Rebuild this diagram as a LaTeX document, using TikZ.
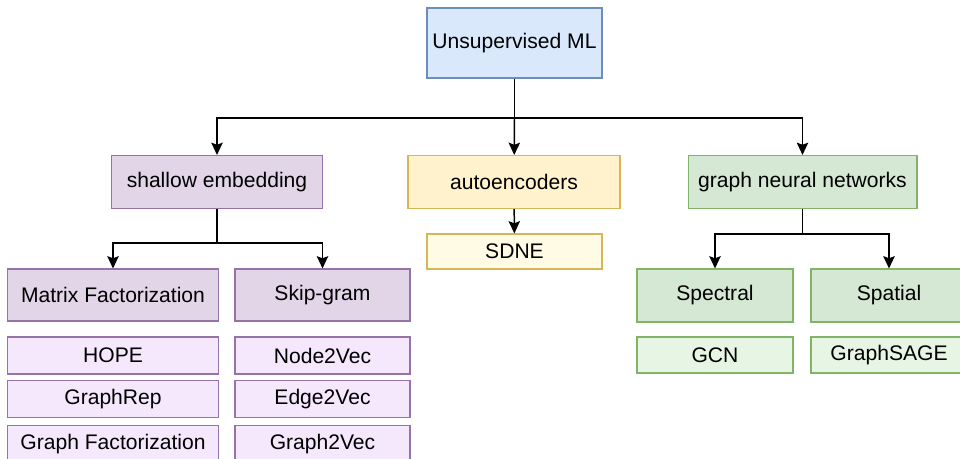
\documentclass[tikz,border=0pt]{standalone}
\usepackage{fontspec}
\setmainfont{Liberation Sans}
\usetikzlibrary{arrows.meta}

\definecolor{blueFill}{HTML}{DAE8FC}
\definecolor{blueLine}{HTML}{6C8EBF}
\definecolor{purpleFill}{HTML}{E1D5E7}
\definecolor{purpleLight}{HTML}{F6E8FC}
\definecolor{purpleLine}{HTML}{9673A6}
\definecolor{yellowFill}{HTML}{FFF2CC}
\definecolor{yellowLight}{HTML}{FFFBE4}
\definecolor{yellowLine}{HTML}{D6B656}
\definecolor{greenFill}{HTML}{D5E8D4}
\definecolor{greenLight}{HTML}{E7F5E5}
\definecolor{greenLine}{HTML}{82B366}

\tikzset{
  box/.style={draw, line width=0.6pt, inner sep=0pt,
    font=\fontsize{12}{14}\selectfont},
  rootbox/.style={box, fill=blueFill, draw=blueLine},
  purplebox/.style={box, fill=purpleFill, draw=purpleLine},
  purpleleaf/.style={box, fill=purpleLight, draw=purpleLine},
  yellowbox/.style={box, fill=yellowFill, draw=yellowLine},
  yellowleaf/.style={box, fill=yellowLight, draw=yellowLine},
  greenbox/.style={box, fill=greenFill, draw=greenLine},
  greenleaf/.style={box, fill=greenLight, draw=greenLine},
  wire/.style={line width=0.85pt},
  link/.style={wire, -{Stealth[length=7pt,width=6.5pt,inset=1.2pt]}}
}

\begin{document}
\begin{tikzpicture}[x=0.02cm, y=-0.02cm]
    \useasboundingbox (0,0) rectangle (960,459);

    % Root
    \node[rootbox, minimum width=3.5cm, minimum height=1.4cm]
        (root) at (514.5,43) {Unsupervised ML};

    % Families
    \node[purplebox, minimum width=4.22cm, minimum height=1.06cm]
        (shallow) at (217,182) {shallow embedding};
    \node[yellowbox, minimum width=4.24cm, minimum height=1.06cm]
        (auto) at (514,182) {autoencoders};
    \node[greenbox, minimum width=4.58cm, minimum height=1.06cm]
        (gnn) at (802.5,182) {graph neural networks};

    % Sub-families
    \node[purplebox, minimum width=4.22cm, minimum height=1.04cm]
        (matrix) at (113,295) {Matrix Factorization};
    \node[purplebox, minimum width=3.5cm, minimum height=1.04cm]
        (skip) at (322.5,295) {Skip-gram};
    \node[yellowleaf, minimum width=3.5cm, minimum height=0.7cm]
        (sdne) at (514.5,251.5) {SDNE};
    \node[greenbox, minimum width=3.12cm, minimum height=1.06cm]
        (spectral) at (715,295.5) {Spectral};
    \node[greenbox, minimum width=3.12cm, minimum height=1.06cm]
        (spatial) at (889,295.5) {Spatial};

    % Methods
    \node[purpleleaf, minimum width=4.22cm, minimum height=0.74cm]
        (hope) at (113,355.5) {HOPE};
    \node[purpleleaf, minimum width=4.22cm, minimum height=0.74cm]
        (graphrep) at (113,399) {GraphRep};
    \node[purpleleaf, minimum width=4.22cm, minimum height=0.74cm]
        (graphfact) at (113,444) {Graph Factorization};
    \node[purpleleaf, minimum width=3.5cm, minimum height=0.74cm]
        (node2vec) at (322.5,355.5) {Node2Vec};
    \node[purpleleaf, minimum width=3.5cm, minimum height=0.74cm]
        (edge2vec) at (322.5,399) {Edge2Vec};
    \node[purpleleaf, minimum width=3.5cm, minimum height=0.74cm]
        (graph2vec) at (322.5,444) {Graph2Vec};
    \node[greenleaf, minimum width=3.12cm, minimum height=0.72cm]
        (gcn) at (715,355) {GCN};
    \node[greenleaf, minimum width=3.12cm, minimum height=0.72cm]
        (sage) at (889,355) {GraphSAGE};

    % Connectors
    \coordinate (rootsplit) at (514.5,118);
    \coordinate (shallowsplit) at (217,243);
    \coordinate (gnnsplit) at (802.5,234);

    \draw[wire] (root) -- (rootsplit);
    \draw[link] (rootsplit) -| (shallow);
    \draw[link] (rootsplit) -- (auto);
    \draw[link] (rootsplit) -| (gnn);

    \draw[wire] (shallow) -- (shallowsplit);
    \draw[link] (shallowsplit) -| (matrix);
    \draw[link] (shallowsplit) -| (skip);

    \draw[link] (auto) -- (sdne);

    \draw[wire] (gnn) -- (gnnsplit);
    \draw[link] (gnnsplit) -| (spectral);
    \draw[link] (gnnsplit) -| (spatial);
  \end{tikzpicture}
\end{document}
